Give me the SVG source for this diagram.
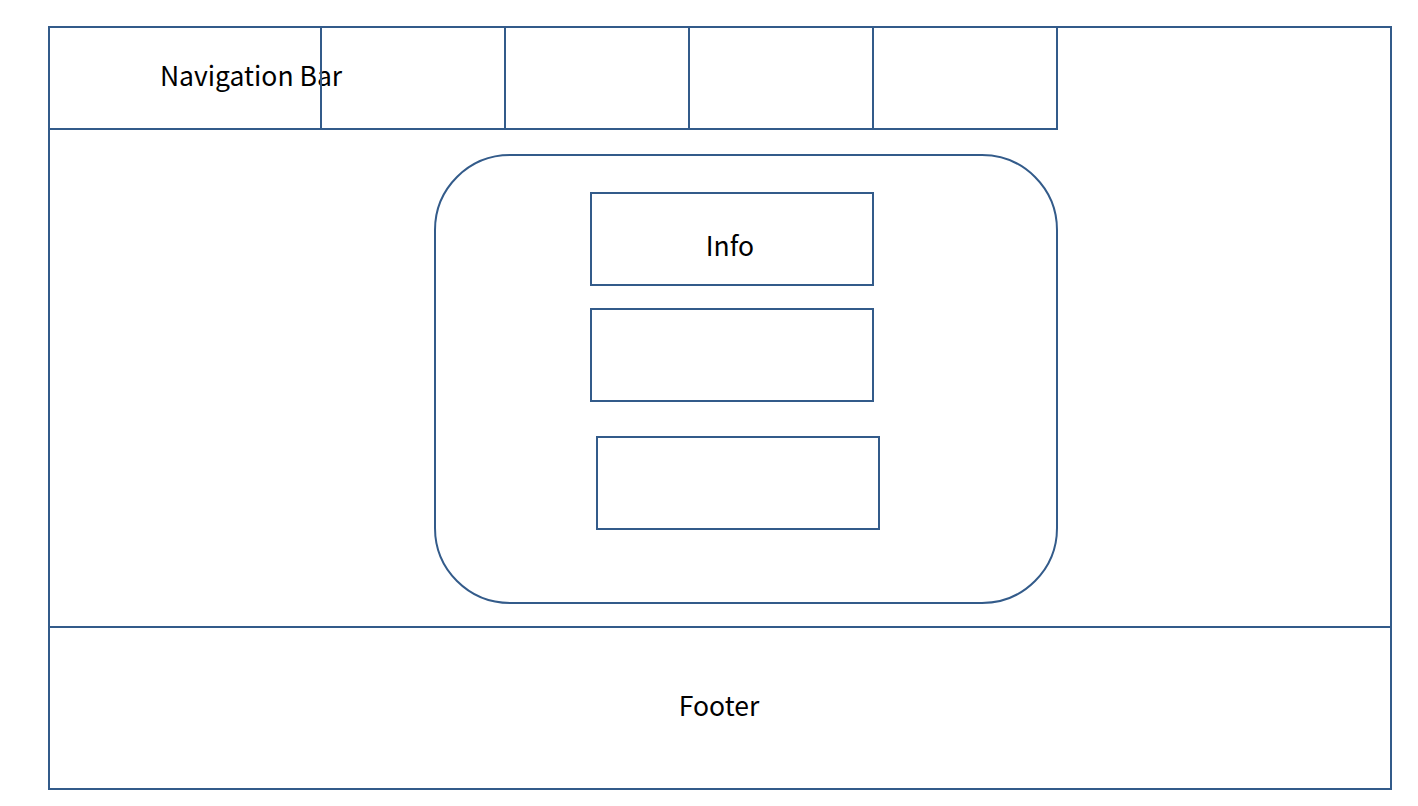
<svg xmlns="http://www.w3.org/2000/svg" width="1418" height="806" viewBox="0 0 1418 806">
<style>
.s{fill:none;stroke:#335B8A;stroke-width:2}
.t{font-family:"Noto Sans CJK JP","Noto Sans",sans-serif;font-size:26.5px;fill:#000;text-anchor:middle;dominant-baseline:central}
</style>
<rect width="1418" height="806" fill="#fff"/>
<g id="page"><rect class="s" x="49" y="27" width="1342" height="762"/></g>
<g id="navbar">
<rect class="s" x="49" y="27" width="1008" height="102"/>
<text class="t" x="251" y="74">Navigation Bar</text>
</g>
<g id="nav1"><rect class="s" x="321" y="27" width="184" height="102"/></g>
<g id="nav2"><rect class="s" x="505" y="27" width="184" height="102"/></g>
<g id="nav3"><rect class="s" x="689" y="27" width="184" height="102"/></g>
<g id="nav4"><rect class="s" x="873" y="27" width="184" height="102"/></g>
<g id="content"><rect class="s" x="435" y="155" width="622" height="448" rx="75" ry="75"/></g>
<g id="info"><rect class="s" x="591" y="193" width="282" height="92"/><text class="t" x="730" y="244">Info</text></g>
<g id="box2"><rect class="s" x="591" y="309" width="282" height="92"/></g>
<g id="box3"><rect class="s" x="597" y="437" width="282" height="92"/></g>
<g id="footer"><rect class="s" x="49" y="627" width="1342" height="162"/><text class="t" x="719" y="704">Footer</text></g>
<g id="connectors"></g>
</svg>
